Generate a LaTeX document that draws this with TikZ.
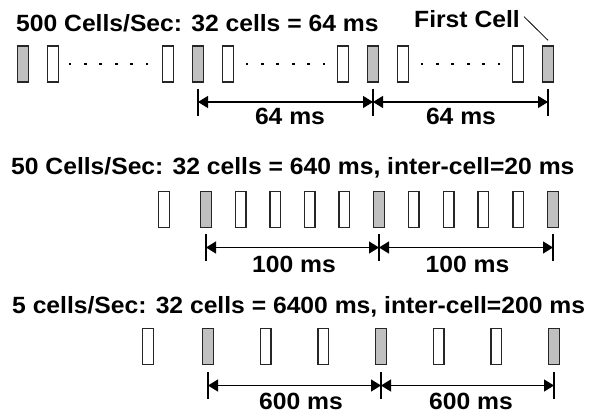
\documentclass[tikz,border=0pt]{standalone}
\usepackage{fontspec}
\setmainfont{Liberation Sans}[FakeStretch=1.05]
\usetikzlibrary{arrows.meta}
\definecolor{cellgray}{RGB}{192,192,192}
\tikzset{
  cell/.style={draw=black!85, line width=1.4pt, minimum width=10.5pt, minimum height=36pt, inner sep=0pt, fill=white},
  gcell/.style={cell, fill=cellgray},
  lbl/.style={font=\fontsize{23.5}{25}\selectfont\bfseries, inner sep=0pt},
  dim/.style={line width=1.3pt, {Triangle[length=10pt,width=12pt]}-{Triangle[length=10pt,width=12pt]}},
  tickline/.style={line width=1.3pt},
  dotmark/.style={fill=black, rectangle, inner sep=0pt, minimum size=2.8pt},
  leader/.style={line width=0.8pt}
}
\begin{document}
\begin{tikzpicture}[x=1pt,y=-1pt]
\fill[white] (0,0) rectangle (590,413);
\useasboundingbox (0,0) rectangle (590,413);

% ---------- Row 1 ----------
\node[lbl, anchor=base west] (t1) at (16,31.5) {500 Cells/Sec: 32 cells = 64 ms};
\node[lbl, anchor=base west] (fc) at (414,27) {First Cell};
\foreach \x/\n/\s in {23/a1/gcell, 53/a2/cell, 168/a3/cell, 198/a4/gcell, 228/a5/cell,
  343/a6/cell, 373/a7/gcell, 403/a8/cell, 518/a9/cell, 548/a10/gcell}
  \node[\s] (\n) at (\x,64) {};
\foreach \s in {70,247,422}
  \foreach \k in {0,...,5}
    \node[dotmark] (d\s-\k) at ({\s+15.4*\k},64) {};
\draw[leader] ([xshift=4pt,yshift=2pt]fc.east) -- ([yshift=5pt]a10.north);
\coordinate (y1) at (0,102);
\coordinate (p1) at (a4 |- y1);
\coordinate (p2) at (a7 |- y1);
\coordinate (p3) at (a10 |- y1);
\draw[dim] (p1) -- (p2);
\draw[dim] (p2) -- (p3);
\foreach \p in {p1,p2,p3}
  \draw[tickline] ([yshift=13.5pt]\p) -- ([yshift=-13.5pt]\p);
\node[lbl, anchor=base] (l1) at (290,124.5) {64 ms};
\node[lbl, anchor=base] (l2) at (461,124.5) {64 ms};

% ---------- Row 2 ----------
\node[lbl, anchor=base west] (t2) at (11,174) {50 Cells/Sec: 32 cells = 640 ms, inter-cell=20 ms};
\foreach \x/\n/\s in {164/b1/cell, 206/b2/gcell, 240.6/b3/cell, 275.2/b4/cell, 309.8/b5/cell,
  344.4/b6/cell, 379/b7/gcell, 413.8/b8/cell, 448.6/b9/cell, 483.4/b10/cell,
  518.2/b11/cell, 553/b12/gcell}
  \node[\s] (\n) at (\x,209.5) {};
\coordinate (y2) at (0,247.5);
\coordinate (q1) at (b2 |- y2);
\coordinate (q2) at (b7 |- y2);
\coordinate (q3) at (b12 |- y2);
\draw[dim] (q1) -- (q2);
\draw[dim] (q2) -- (q3);
\foreach \p in {q1,q2,q3}
  \draw[tickline] ([yshift=13.5pt]\p) -- ([yshift=-13.5pt]\p);
\node[lbl, anchor=base] (m1) at (294,272) {100 ms};
\node[lbl, anchor=base] (m2) at (467.5,272) {100 ms};

% ---------- Row 3 ----------
\node[lbl, anchor=base west] (t3) at (12,313) {5 cells/Sec: 32 cells = 6400 ms, inter-cell=200 ms};
\foreach \x/\n/\s in {148/c1/cell, 208/c2/gcell, 265.7/c3/cell, 323.3/c4/cell, 381/c5/gcell,
  438.7/c6/cell, 496.3/c7/cell, 554/c8/gcell}
  \node[\s] (\n) at (\x,346.5) {};
\coordinate (y3) at (0,385.5);
\coordinate (r1) at (c2 |- y3);
\coordinate (r2) at (c5 |- y3);
\coordinate (r3) at (c8 |- y3);
\draw[dim] (r1) -- (r2);
\draw[dim] (r2) -- (r3);
\foreach \p in {r1,r2,r3}
  \draw[tickline] ([yshift=13.5pt]\p) -- ([yshift=-13.5pt]\p);
\node[lbl, anchor=base] (n1) at (301,409) {600 ms};
\node[lbl, anchor=base] (n2) at (471,409) {600 ms};
\end{tikzpicture}
\end{document}
